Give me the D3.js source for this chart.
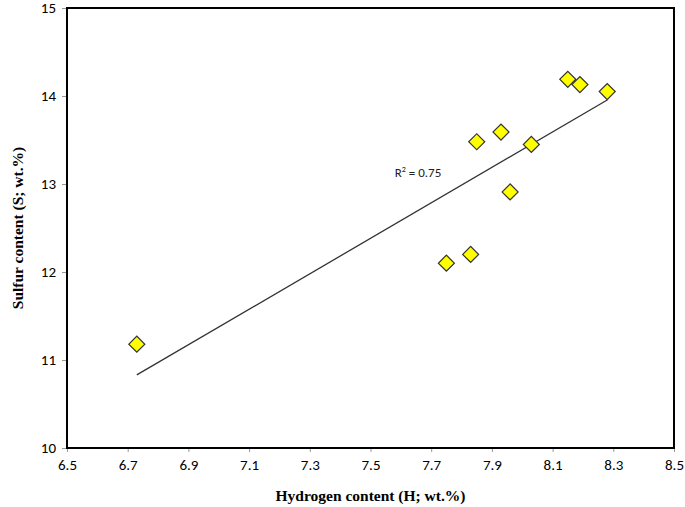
<!DOCTYPE html>
<html>
<head>
  <meta charset="utf-8">
  <title>Sulfur vs Hydrogen</title>
  <script src="https://d3js.org/d3.v7.min.js"></script>
  <style>
    body { margin: 0; background: #fff; }
  </style>
</head>
<body>
  <div id="chart"></div>

<script>
  // data
  const hydrogen = [6.73, 7.75, 7.83, 7.85, 7.93, 7.96, 8.03, 8.15, 8.19, 8.28];
  const sulfur   = [11.18, 12.10, 12.20, 13.48, 13.59, 12.91, 13.45, 14.19, 14.13, 14.05];
  const xTicks = [6.5, 6.7, 6.9, 7.1, 7.3, 7.5, 7.7, 7.9, 8.1, 8.3, 8.5];
  const yTicks = [10, 11, 12, 13, 14, 15];

  const margin = {top: 8, right: 11, bottom: 59, left: 67},
      width = 685 - margin.left - margin.right,
      height = 507 - margin.top - margin.bottom;

  const svg = d3.select("#chart")
    .append("svg")
      .attr("width", 685)
      .attr("height", 507);

  const g = svg.append("g")
      .attr("transform", `translate(${margin.left},${margin.top})`);

  const x = d3.scaleLinear().domain([6.5, 8.5]).range([0, width]);
  const y = d3.scaleLinear().domain([10, 15]).range([height, 0]);

  const tickFont = "Carlito, 'Open Sans', 'Liberation Sans', sans-serif";

  // x axis
  const xAxis = g.append("g")
    .attr("transform", `translate(0,${height})`)
    .call(d3.axisBottom(x).tickValues(xTicks).tickFormat(d3.format(".1f")).tickSize(4).tickPadding(7));
  xAxis.select(".domain").remove();
  xAxis.selectAll("line").attr("stroke", "#999");
  xAxis.selectAll("text").attr("font-size", 15).attr("font-family", tickFont).attr("fill", "#000");

  // y axis
  const yAxis = g.append("g")
    .call(d3.axisLeft(y).tickValues(yTicks).tickFormat(d3.format("d")).tickSize(5).tickPadding(6));
  yAxis.select(".domain").remove();
  yAxis.selectAll("line").attr("stroke", "#999");
  yAxis.selectAll("text").attr("font-size", 15).attr("font-family", tickFont).attr("fill", "#000");

  // frame
  g.append("rect")
    .attr("x", 0).attr("y", 0)
    .attr("width", width).attr("height", height)
    .attr("fill", "none")
    .attr("stroke", "#000")
    .attr("stroke-width", 2);

  // linear fit
  const pts = hydrogen.map((h, i) => ({x: h, y: sulfur[i]}));
  const mx = d3.mean(hydrogen), my = d3.mean(sulfur);
  const sxy = d3.sum(pts, d => (d.x - mx) * (d.y - my));
  const sxx = d3.sum(pts, d => (d.x - mx) ** 2);
  const syy = d3.sum(pts, d => (d.y - my) ** 2);
  const slope = sxy / sxx, intercept = my - slope * mx;
  const r2 = (sxy * sxy) / (sxx * syy);
  const x0 = d3.min(hydrogen), x1 = d3.max(hydrogen);

  g.append("line")
    .attr("x1", x(x0)).attr("y1", y(slope * x0 + intercept))
    .attr("x2", x(x1)).attr("y2", y(slope * x1 + intercept))
    .attr("stroke", "#333")
    .attr("stroke-width", 1.3);

  // points
  const diamond = d3.symbol().type(d3.symbolSquare).size(128);
  g.selectAll(".dot")
    .data(pts)
    .enter()
    .append("path")
      .attr("class", "dot")
      .attr("d", diamond)
      .attr("transform", d => `translate(${x(d.x)},${y(d.y)}) rotate(45)`)
      .attr("fill", "#ffff00")
      .attr("stroke", "#333")
      .attr("stroke-width", 1.2);

  // R² label
  const lbl = g.append("text")
    .attr("x", x(7.58))
    .attr("y", y(13.08))
    .attr("font-size", 13)
    .attr("font-family", tickFont)
    .attr("fill", "#222");
  lbl.append("tspan").text("R");
  lbl.append("tspan").attr("font-size", 8).attr("dy", -5).text("2");
  lbl.append("tspan").attr("dy", 5).text(" = " + r2.toFixed(2));

  // axis titles
  svg.append("text")
    .attr("x", margin.left + width / 2)
    .attr("y", 501)
    .attr("text-anchor", "middle")
    .attr("font-family", "'Liberation Serif', serif")
    .attr("font-weight", "bold")
    .attr("font-size", 15.5)
    .text("Hydrogen content (H; wt.%)");

  svg.append("text")
    .attr("transform", `translate(23,${margin.top + height / 2}) rotate(-90)`)
    .attr("text-anchor", "middle")
    .attr("font-family", "'Liberation Serif', serif")
    .attr("font-weight", "bold")
    .attr("font-size", 15.5)
    .text("Sulfur content (S; wt.%)");
</script>
</body>
</html>
